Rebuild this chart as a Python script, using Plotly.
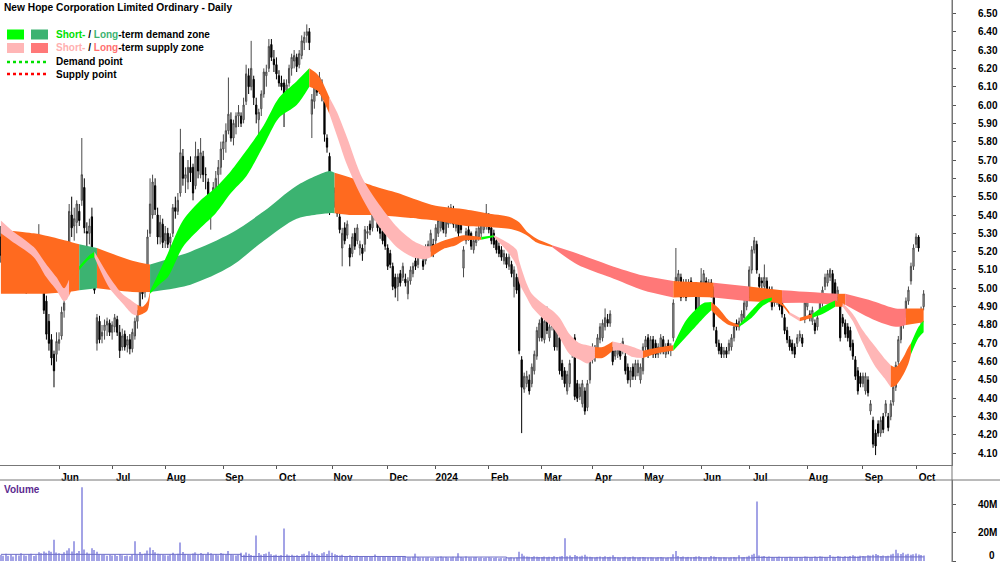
import pandas as pd
import plotly.graph_objects as go

# ---------------- data ----------------
first_day = "2023-05-01"
last_day = "2024-10-04"
asx_holidays = ["2023-06-12", "2023-12-25", "2023-12-26", "2024-01-01", "2024-01-26",
                "2024-03-29", "2024-04-01", "2024-04-25", "2024-06-10"]

open_px = [
    5.28, 5.15, 5.20, 5.12, 5.04, 5.13, 5.06, 5.16, 5.01, 5.11, 5.06, 5.01, 5.10, 5.21, 5.14, 5.20, 5.24, 4.99, 4.93, 4.82, 4.72, 4.64, 4.64,
    4.70, 4.74, 4.88, 4.96, 5.12, 5.40, 5.34, 5.36, 5.42, 5.48, 5.55, 5.31, 5.30, 5.39, 5.19, 4.70, 4.82, 4.74, 4.77, 4.80, 4.81,
    4.76, 4.79, 4.83, 4.76, 4.68, 4.75, 4.69, 4.72, 4.67, 4.74, 4.82, 4.90, 5.00, 4.98, 5.10, 5.30, 5.40, 5.56, 5.40, 5.28, 5.35,
    5.26, 5.30, 5.25, 5.30, 5.44, 5.42, 5.52, 5.72, 5.60, 5.58, 5.66, 5.66, 5.56, 5.72, 5.62, 5.72, 5.62, 5.58, 5.42, 5.46, 5.54, 5.62, 5.66,
    5.76, 5.80, 5.86, 5.92, 5.82, 5.88, 5.94, 5.94, 5.92, 6.02, 6.16, 6.10, 6.14, 6.00, 5.92, 5.98, 6.06, 6.16, 6.20, 6.33, 6.25,
    6.22, 6.16, 6.12, 6.12, 6.08, 6.12, 6.20, 6.24, 6.26, 6.22, 6.27, 6.34, 6.38, 6.40, 5.95, 6.02, 6.10, 6.08, 6.12, 6.02, 5.82, 5.72,
    5.55, 5.47, 5.48, 5.39, 5.22, 5.33, 5.29, 5.22, 5.19, 5.30, 5.26, 5.22, 5.22, 5.24, 5.30, 5.35, 5.33, 5.39, 5.41, 5.33, 5.31, 5.30,
    5.22, 5.19, 5.12, 5.06, 5.01, 5.08, 5.06, 5.05, 4.97, 5.04, 5.08, 5.15, 5.13, 5.21, 5.15, 5.15, 5.19, 5.22, 5.24,
    5.26, 5.30, 5.33, 5.39, 5.30, 5.35, 5.37, 5.43, 5.33, 5.39, 5.37, 5.11, 5.26, 5.32, 5.30, 5.21, 5.25, 5.28, 5.30, 5.32, 5.34,
    5.39, 5.33, 5.30, 5.26, 5.23, 5.21, 5.15, 5.17, 5.12, 5.13, 5.01, 5.06, 5.06, 4.61, 4.45, 4.48, 4.50, 4.48, 4.55, 4.63, 4.73,
    4.84, 4.72, 4.88, 4.73, 4.79, 4.81, 4.68, 4.73, 4.59, 4.55, 4.44, 4.48, 4.64, 4.73, 4.48, 4.41, 4.37, 4.44, 4.35, 4.50,
    4.61, 4.66, 4.66, 4.72, 4.73, 4.79, 4.83, 4.81, 4.66, 4.63, 4.64, 4.68, 4.66, 4.63, 4.57, 4.50, 4.57, 4.52, 4.54, 4.50,
    4.55, 4.68, 4.73, 4.66, 4.72, 4.70, 4.64, 4.66, 4.72, 4.64, 4.70, 4.66, 4.73, 4.98, 5.04, 5.06, 4.97, 5.03, 4.99, 5.04, 5.01, 4.99, 4.86,
    4.99, 5.02, 5.04, 4.99, 5.03, 4.99, 4.77, 4.70, 4.68, 4.64, 4.66, 4.66, 4.68, 4.73, 4.81, 4.79, 4.82, 4.84, 4.90,
    4.95, 5.10, 5.21, 5.24, 5.06, 5.04, 5.01, 5.04, 4.99, 4.99, 4.92, 4.93, 4.95, 4.93, 4.84, 4.77, 4.72, 4.70, 4.68, 4.70, 4.73, 4.73, 4.83,
    4.90, 4.86, 4.82, 4.81, 4.79, 4.88, 4.92, 5.01, 5.03, 5.06, 5.08, 5.03, 4.95, 4.93, 4.84, 4.81, 4.79, 4.77, 4.70, 4.61, 4.55, 4.52,
    4.48, 4.44, 4.50, 4.33, 4.28, 4.21, 4.26, 4.21, 4.30, 4.32, 4.30, 4.30, 4.38, 4.46, 4.60, 4.72, 4.80, 4.86, 4.93, 5.04, 5.12,
    5.24, 5.28, 4.82, 4.90,
]
high_px = [
    5.34, 5.27, 5.22, 5.15, 5.16, 5.16, 5.19, 5.18, 5.13, 5.14, 5.09, 5.16, 5.26, 5.24, 5.27, 5.35, 5.27, 5.02, 4.96, 4.86, 4.75, 4.66, 4.76,
    4.76, 4.90, 4.95, 5.14, 5.46, 5.50, 5.44, 5.48, 5.46, 5.82, 5.60, 5.36, 5.38, 5.44, 5.22, 4.86, 4.85, 4.80, 4.83, 4.84, 4.83,
    4.82, 4.86, 4.85, 4.80, 4.78, 4.77, 4.74, 4.75, 4.78, 4.84, 4.88, 5.02, 5.04, 5.08, 5.32, 5.60, 5.62, 5.60, 5.44, 5.40, 5.38,
    5.34, 5.33, 5.30, 5.46, 5.50, 5.52, 5.87, 5.76, 5.66, 5.70, 5.72, 5.68, 5.80, 5.76, 5.82, 5.75, 5.66, 5.60, 5.50, 5.58, 5.64, 5.70, 5.80,
    5.84, 5.90, 6.15, 5.96, 5.92, 5.96, 6.00, 5.96, 6.04, 6.22, 6.20, 6.35, 6.16, 6.04, 5.98, 6.08, 6.20, 6.22, 6.36, 6.36, 6.30,
    6.26, 6.19, 6.16, 6.14, 6.14, 6.22, 6.28, 6.30, 6.28, 6.30, 6.38, 6.40, 6.44, 6.42, 6.06, 6.12, 6.16, 6.18, 6.14, 6.04, 5.84, 5.74,
    5.58, 5.55, 5.50, 5.41, 5.33, 5.36, 5.37, 5.24, 5.30, 5.33, 5.35, 5.26, 5.24, 5.34, 5.34, 5.37, 5.43, 5.46, 5.43, 5.35, 5.33, 5.32,
    5.24, 5.21, 5.14, 5.08, 5.08, 5.10, 5.14, 5.08, 5.06, 5.12, 5.14, 5.17, 5.21, 5.23, 5.17, 5.24, 5.26, 5.32, 5.27,
    5.35, 5.39, 5.42, 5.41, 5.39, 5.45, 5.46, 5.45, 5.42, 5.41, 5.39, 5.23, 5.33, 5.34, 5.31, 5.28, 5.33, 5.35, 5.37, 5.41, 5.46,
    5.41, 5.35, 5.32, 5.28, 5.25, 5.23, 5.21, 5.19, 5.19, 5.15, 5.12, 5.08, 5.08, 4.63, 4.54, 4.55, 4.53, 4.59, 4.66, 4.79, 4.83,
    4.88, 4.84, 4.90, 4.81, 4.86, 4.83, 4.79, 4.75, 4.61, 4.57, 4.55, 4.61, 4.72, 4.75, 4.50, 4.48, 4.50, 4.46, 4.50, 4.68,
    4.70, 4.69, 4.75, 4.81, 4.83, 4.89, 4.86, 4.88, 4.68, 4.68, 4.70, 4.70, 4.73, 4.65, 4.59, 4.57, 4.59, 4.61, 4.61, 4.59,
    4.70, 4.74, 4.75, 4.74, 4.74, 4.72, 4.70, 4.75, 4.74, 4.70, 4.72, 4.70, 4.94, 5.22, 5.10, 5.08, 5.05, 5.05, 5.05, 5.06, 5.03, 5.01, 4.98,
    5.11, 5.10, 5.06, 5.05, 5.05, 5.01, 4.79, 4.72, 4.70, 4.68, 4.68, 4.72, 4.75, 4.81, 4.83, 4.84, 4.88, 4.94, 4.99,
    5.12, 5.23, 5.28, 5.26, 5.08, 5.06, 5.13, 5.06, 5.01, 5.01, 4.99, 4.99, 4.97, 4.95, 4.86, 4.79, 4.74, 4.72, 4.70, 4.75, 4.77, 4.75, 4.94,
    4.97, 4.88, 4.90, 4.83, 4.86, 4.95, 5.01, 5.08, 5.10, 5.11, 5.10, 5.05, 5.01, 4.95, 4.86, 4.83, 4.81, 4.79, 4.72, 4.63, 4.57, 4.54,
    4.54, 4.54, 4.52, 4.39, 4.30, 4.23, 4.28, 4.30, 4.32, 4.39, 4.32, 4.39, 4.48, 4.60, 4.74, 4.82, 4.88, 4.95, 5.01, 5.14, 5.24,
    5.30, 5.29, 4.90, 4.99,
]
low_px = [
    5.14, 5.12, 5.06, 5.00, 5.01, 5.05, 5.04, 5.00, 4.99, 5.02, 4.97, 4.99, 5.08, 5.12, 5.12, 5.18, 5.04, 4.86, 4.72, 4.66, 4.58, 4.46, 4.60,
    4.66, 4.72, 4.84, 4.94, 5.10, 5.28, 5.26, 5.30, 5.34, 5.45, 5.30, 5.22, 5.24, 5.16, 4.97, 4.66, 4.70, 4.70, 4.72, 4.74, 4.74,
    4.72, 4.76, 4.74, 4.62, 4.66, 4.66, 4.65, 4.64, 4.65, 4.72, 4.78, 4.88, 4.94, 4.95, 5.08, 5.28, 5.38, 5.40, 5.24, 5.24, 5.22,
    5.22, 5.22, 5.18, 5.28, 5.38, 5.40, 5.50, 5.56, 5.52, 5.54, 5.58, 5.48, 5.54, 5.60, 5.60, 5.58, 5.54, 5.38, 5.32, 5.42, 5.50, 5.56, 5.62,
    5.70, 5.74, 5.84, 5.80, 5.78, 5.84, 5.88, 5.88, 5.90, 6.00, 6.06, 6.08, 6.00, 5.90, 5.81, 5.94, 6.04, 6.10, 6.18, 6.24, 6.18,
    6.14, 6.10, 6.08, 5.88, 6.04, 6.10, 6.16, 6.20, 6.18, 6.20, 6.25, 6.30, 6.34, 6.30, 5.82, 5.98, 6.05, 6.06, 6.02, 5.80, 5.74, 5.40,
    5.44, 5.44, 5.39, 5.30, 5.12, 5.24, 5.27, 5.12, 5.17, 5.21, 5.24, 5.18, 5.15, 5.20, 5.27, 5.29, 5.31, 5.37, 5.31, 5.27, 5.24, 5.21,
    5.10, 5.11, 4.99, 4.95, 4.93, 5.01, 5.04, 5.01, 4.94, 5.02, 5.06, 5.10, 5.11, 5.17, 5.10, 5.13, 5.17, 5.20, 5.17,
    5.24, 5.28, 5.31, 5.30, 5.28, 5.33, 5.35, 5.33, 5.31, 5.28, 5.30, 5.06, 5.24, 5.26, 5.21, 5.19, 5.23, 5.26, 5.28, 5.30, 5.32,
    5.30, 5.24, 5.22, 5.19, 5.17, 5.15, 5.13, 5.11, 5.10, 5.06, 4.95, 4.97, 4.64, 4.21, 4.43, 4.46, 4.42, 4.46, 4.53, 4.61, 4.71,
    4.71, 4.70, 4.75, 4.71, 4.77, 4.66, 4.66, 4.53, 4.50, 4.46, 4.42, 4.46, 4.62, 4.39, 4.38, 4.39, 4.35, 4.31, 4.33, 4.48,
    4.59, 4.60, 4.64, 4.70, 4.71, 4.77, 4.79, 4.79, 4.58, 4.61, 4.62, 4.61, 4.64, 4.53, 4.48, 4.46, 4.50, 4.50, 4.52, 4.48,
    4.53, 4.66, 4.62, 4.64, 4.62, 4.62, 4.62, 4.64, 4.64, 4.62, 4.64, 4.63, 4.71, 4.96, 5.02, 4.93, 4.95, 4.93, 4.97, 4.99, 4.96, 4.84, 4.84,
    4.97, 5.00, 4.97, 4.97, 4.95, 4.77, 4.68, 4.64, 4.62, 4.62, 4.62, 4.64, 4.66, 4.71, 4.77, 4.77, 4.80, 4.82, 4.88,
    4.93, 5.08, 5.19, 5.08, 4.99, 5.00, 4.99, 4.95, 4.93, 4.88, 4.90, 4.91, 4.88, 4.84, 4.75, 4.70, 4.66, 4.64, 4.62, 4.68, 4.71, 4.68, 4.81,
    4.88, 4.82, 4.80, 4.75, 4.77, 4.86, 4.90, 4.99, 5.01, 5.04, 4.93, 4.93, 4.93, 4.71, 4.79, 4.73, 4.71, 4.66, 4.61, 4.50, 4.42, 4.46,
    4.46, 4.42, 4.41, 4.31, 4.13, 4.09, 4.19, 4.19, 4.21, 4.30, 4.22, 4.28, 4.36, 4.44, 4.58, 4.70, 4.78, 4.84, 4.91, 5.02, 5.10,
    5.22, 5.20, 4.80, 4.88,
]
close_px = [
    5.18, 5.22, 5.10, 5.05, 5.12, 5.08, 5.15, 5.02, 5.10, 5.05, 5.00, 5.12, 5.20, 5.15, 5.22, 5.26, 5.06, 4.88, 4.75, 4.70, 4.62, 4.55, 4.71,
    4.72, 4.87, 4.92, 5.12, 5.42, 5.33, 5.38, 5.46, 5.37, 5.62, 5.33, 5.30, 5.34, 5.19, 4.99, 4.84, 4.72, 4.76, 4.80, 4.82, 4.76,
    4.80, 4.84, 4.76, 4.66, 4.74, 4.68, 4.72, 4.67, 4.76, 4.82, 4.86, 5.00, 4.97, 5.06, 5.28, 5.46, 5.58, 5.43, 5.28, 5.36, 5.25,
    5.30, 5.24, 5.28, 5.44, 5.42, 5.48, 5.74, 5.60, 5.62, 5.66, 5.63, 5.52, 5.72, 5.64, 5.74, 5.62, 5.62, 5.45, 5.48, 5.55, 5.60, 5.66, 5.76,
    5.80, 5.86, 5.95, 5.82, 5.90, 5.94, 5.96, 5.90, 6.00, 6.17, 6.10, 6.20, 6.04, 5.95, 5.96, 6.06, 6.18, 6.18, 6.32, 6.26, 6.22,
    6.17, 6.12, 6.10, 6.06, 6.11, 6.20, 6.26, 6.27, 6.21, 6.28, 6.35, 6.37, 6.40, 6.34, 6.03, 6.10, 6.07, 6.15, 6.05, 5.84, 5.77, 5.50,
    5.46, 5.53, 5.41, 5.32, 5.30, 5.26, 5.35, 5.17, 5.28, 5.23, 5.33, 5.24, 5.19, 5.32, 5.31, 5.32, 5.40, 5.42, 5.33, 5.30, 5.26, 5.23,
    5.12, 5.13, 5.01, 5.00, 5.06, 5.03, 5.12, 5.03, 5.04, 5.10, 5.12, 5.12, 5.19, 5.19, 5.12, 5.22, 5.24, 5.30, 5.19,
    5.33, 5.37, 5.40, 5.32, 5.37, 5.41, 5.44, 5.35, 5.40, 5.30, 5.32, 5.21, 5.31, 5.28, 5.23, 5.26, 5.31, 5.33, 5.35, 5.39, 5.41,
    5.32, 5.26, 5.24, 5.21, 5.19, 5.17, 5.19, 5.13, 5.17, 5.08, 5.10, 4.99, 4.66, 4.46, 4.52, 4.52, 4.44, 4.57, 4.64, 4.77, 4.81,
    4.73, 4.82, 4.77, 4.79, 4.84, 4.68, 4.77, 4.55, 4.52, 4.48, 4.53, 4.59, 4.70, 4.41, 4.40, 4.46, 4.48, 4.33, 4.48, 4.66,
    4.68, 4.63, 4.73, 4.79, 4.81, 4.84, 4.81, 4.86, 4.60, 4.66, 4.68, 4.63, 4.71, 4.55, 4.50, 4.55, 4.52, 4.59, 4.59, 4.57,
    4.68, 4.72, 4.64, 4.72, 4.64, 4.64, 4.68, 4.73, 4.66, 4.68, 4.66, 4.68, 4.92, 5.06, 5.08, 4.95, 5.03, 4.95, 5.03, 5.01, 4.99, 4.86, 4.96,
    5.04, 5.08, 4.99, 5.03, 4.97, 4.79, 4.70, 4.66, 4.64, 4.66, 4.64, 4.70, 4.73, 4.79, 4.79, 4.82, 4.86, 4.92, 4.97,
    5.10, 5.21, 5.26, 5.10, 5.01, 5.03, 5.06, 4.97, 4.95, 4.90, 4.97, 4.97, 4.90, 4.86, 4.77, 4.72, 4.68, 4.66, 4.64, 4.73, 4.75, 4.70, 4.92,
    4.95, 4.84, 4.88, 4.77, 4.84, 4.93, 4.99, 5.06, 5.08, 5.10, 4.95, 4.95, 4.99, 4.73, 4.81, 4.75, 4.73, 4.68, 4.63, 4.52, 4.44, 4.48,
    4.52, 4.52, 4.43, 4.37, 4.15, 4.14, 4.21, 4.28, 4.23, 4.37, 4.24, 4.37, 4.46, 4.58, 4.72, 4.80, 4.86, 4.93, 4.99, 5.12, 5.22,
    5.28, 5.22, 4.87, 4.97,
]
volume_m = [
    4.2, 3.8, 5.1, 3.6, 4.4, 3.2, 4.8, 3.9, 5.5, 4.1, 3.7, 4.6, 5.2, 3.5, 4.0, 6.1, 5.4, 6.8, 5.9, 7.2, 6.5, 15.0, 6.0,
    5.5, 4.8, 6.2, 7.5, 9.0, 6.8, 14.0, 5.6, 7.1, 52.0, 8.2, 6.0, 5.1, 9.0, 7.8, 6.5, 4.9, 4.2, 4.5, 3.8, 4.3,
    3.9, 4.4, 3.6, 4.8, 4.1, 3.5, 3.9, 3.3, 4.6, 14.0, 4.2, 6.3, 4.7, 5.3, 7.4, 9.5, 7.8, 6.1, 5.2, 4.8, 4.4,
    4.1, 3.9, 4.6, 5.8, 4.3, 5.1, 13.0, 6.4, 5.0, 4.6, 4.2, 5.3, 6.1, 4.4, 5.7, 4.9, 4.5, 6.2, 5.5, 4.3, 4.8, 4.1, 5.6,
    5.2, 4.6, 7.1, 4.8, 4.2, 3.9, 4.5, 5.8, 4.4, 6.0, 5.1, 4.3, 3.8, 18.0, 5.6, 4.4, 4.9, 5.3, 6.6, 4.7, 4.1,
    4.5, 3.8, 4.2, 23.0, 4.6, 3.9, 4.4, 3.7, 4.1, 3.5, 4.8, 5.2, 4.3, 6.9, 5.8, 4.6, 4.9, 4.1, 5.5, 6.2, 5.0, 7.3,
    5.8, 4.7, 4.3, 3.9, 4.4, 3.6, 3.2, 4.1, 3.5, 3.3, 3.8, 3.1, 2.9, 3.4, 3.0, 2.8, 3.3, 4.6, 3.2, 2.9, 3.5, 3.1,
    3.4, 3.0, 3.6, 3.2, 2.8, 3.1, 2.9, 3.3, 2.7, 2.6, 3.0, 5.2, 2.8, 2.5, 2.7, 2.4, 2.6, 2.2, 2.3,
    2.5, 2.8, 3.2, 2.6, 2.9, 2.4, 2.7, 3.0, 2.6, 5.5, 2.8, 2.5, 3.1, 2.7, 2.4, 2.6, 2.9, 2.3, 2.5, 2.2, 2.4,
    2.6, 2.3, 2.1, 2.4, 2.0, 2.2, 1.9, 2.3, 2.1, 2.5, 2.2, 2.4, 6.5, 5.2, 3.8, 3.1, 3.0, 2.9, 3.3, 3.0, 2.8,
    2.8, 3.2, 2.7, 3.0, 2.6, 3.4, 2.9, 3.1, 3.6, 16.0, 3.3, 3.9, 2.8, 4.2, 3.5, 3.1, 3.8, 4.5, 3.2, 3.0,
    2.7, 2.5, 2.9, 3.1, 2.6, 3.3, 2.8, 3.0, 4.1, 2.9, 2.6, 2.4, 2.7, 3.0, 2.5, 2.8, 3.2, 2.6, 2.4, 2.7,
    2.9, 2.6, 2.4, 2.7, 2.5, 2.3, 2.6, 2.8, 2.4, 2.2, 2.5, 2.7, 4.8, 7.0, 3.5, 2.9, 3.2, 2.7, 2.9, 2.6, 2.8, 3.1, 3.4,
    2.8, 2.5, 2.7, 2.4, 3.6, 3.2, 2.9, 2.6, 2.4, 2.7, 2.5, 2.3, 2.6, 2.8, 2.5, 4.0, 2.7, 2.9, 3.0,
    3.8, 4.4, 5.1, 42.0, 3.9, 3.2, 3.5, 2.9, 3.1, 2.8, 2.6, 2.9, 3.1, 2.7, 2.5, 2.8, 3.0, 2.6, 2.4, 2.7, 2.9, 2.5, 3.2,
    3.0, 2.7, 2.9, 3.2, 2.8, 3.4, 3.1, 2.9, 2.6, 4.2, 3.0, 2.8, 3.5, 3.1, 2.9, 3.3, 3.0, 3.6, 4.0, 3.4, 3.2, 3.7,
    3.5, 3.2, 4.1, 3.8, 4.4, 5.0, 4.2, 3.6, 3.9, 3.4, 3.7, 4.6, 5.2, 8.0, 5.5, 4.9, 5.8, 4.6, 5.1, 4.4, 4.8,
    5.3, 4.6, 4.2, 3.9,
]
vol_avg_idx = [0, 95, 160, 200, 298, 340, 365]
vol_avg_m = [4.7, 3.2, 2.8, 2.2, 2.6, 2.9, 2.9]

# Long-term zone: trading-day index, upper and lower edge, and zone type from a start index
lt_idx = [0, 13, 17, 26, 31, 38, 52, 59, 75, 91, 104, 117, 130, 132, 139, 147, 157, 165, 172, 184,
          192, 201, 205, 208, 212, 218, 228, 241, 254, 266, 275, 282, 296, 309, 320, 331, 334, 345, 354, 358, 365]
lt_top = [5.32, 5.30, 5.29, 5.26, 5.24, 5.22, 5.15, 5.13, 5.20, 5.30, 5.42, 5.56, 5.64, 5.63, 5.60, 5.56, 5.52, 5.48, 5.45, 5.43,
          5.41, 5.39, 5.36, 5.31, 5.27, 5.235, 5.19, 5.125, 5.07, 5.04, 5.034, 5.03, 5.01, 4.99, 4.98, 4.97, 4.97, 4.93, 4.89, 4.89, 4.89]
lt_bot = [4.97, 4.97, 4.97, 4.98, 4.99, 5.00, 4.98, 4.98, 5.02, 5.12, 5.26, 5.38, 5.41, 5.41, 5.40, 5.40, 5.39, 5.38, 5.37, 5.34,
          5.335, 5.325, 5.31, 5.29, 5.25, 5.225, 5.13, 5.06, 4.99, 4.95, 4.952, 4.95, 4.93, 4.92, 4.92, 4.91, 4.91, 4.83, 4.79, 4.80, 4.815]
lt_zones = [(0, "c"), (31, "ld"), (38, "c"), (59, "ld"), (132, "c"), (218, "ls"), (266, "c"), (282, "ls"),
            (296, "c"), (309, "ls"), (331, "c"), (334, "ls"), (358, "c")]

# Short-term zone
st_idx = [0, 4, 13, 18, 22, 25, 27, 31, 35, 37, 43, 48, 52, 54, 56, 58, 59, 63, 66, 72, 79, 85, 91, 97, 104, 110, 117,
          122, 125, 127, 130, 133, 137, 143, 150, 157, 163, 168, 170, 175, 180, 183, 190, 195, 201, 204, 205, 208, 210,
          214, 218, 221, 225, 229, 232, 235, 238, 242, 245, 250, 254, 261, 266, 271, 276, 278, 281, 284, 288, 292, 297,
          301, 305, 309, 312, 316, 321, 325, 330, 333, 337, 341, 346, 350, 352, 354, 357, 359, 360, 363, 365]
st_top = [5.37, 5.32, 5.225, 5.13, 5.06, 5.00, 5.05, 5.12, 5.18, 5.20, 5.06, 4.97, 4.93, 4.91, 4.90, 4.93, 4.985, 5.10, 5.19,
          5.37, 5.48, 5.55, 5.64, 5.75, 5.89, 6.04, 6.13, 6.20, 6.17, 6.13, 6.04, 5.96, 5.82, 5.60, 5.45, 5.33, 5.26, 5.23,
          5.23, 5.26, 5.28, 5.29, 5.28, 5.29, 5.245, 5.21, 5.15, 5.025, 4.97, 4.92, 4.88, 4.84, 4.75, 4.70, 4.69, 4.68, 4.68,
          4.71, 4.70, 4.68, 4.66, 4.68, 4.69, 4.825, 4.90, 4.92, 4.925, 4.89, 4.825, 4.80, 4.88, 4.934, 4.95, 4.92, 4.87,
          4.84, 4.86, 4.90, 4.934, 4.92, 4.86, 4.77, 4.68, 4.61, 4.58, 4.57, 4.625, 4.68, 4.70, 4.79, 4.825]
st_bot = [5.30, 5.26, 5.17, 5.06, 4.99, 4.93, 4.96, 5.10, 5.16, 5.17, 5.00, 4.92, 4.86, 4.85, 4.86, 4.88, 4.97, 5.025, 5.06,
          5.225, 5.33, 5.41, 5.52, 5.61, 5.78, 5.93, 6.00, 6.10, 6.08, 6.04, 5.95, 5.83, 5.67, 5.49, 5.33, 5.22, 5.17, 5.16,
          5.17, 5.215, 5.235, 5.26, 5.265, 5.28, 5.19, 5.12, 5.03, 4.95, 4.90, 4.84, 4.79, 4.73, 4.64, 4.61, 4.59, 4.62, 4.62,
          4.66, 4.66, 4.625, 4.62, 4.65, 4.66, 4.735, 4.81, 4.84, 4.88, 4.84, 4.80, 4.79, 4.84, 4.90, 4.935, 4.905, 4.855,
          4.82, 4.84, 4.86, 4.90, 4.90, 4.82, 4.70, 4.57, 4.50, 4.46, 4.47, 4.53, 4.59, 4.64, 4.73, 4.76]
st_zones = [(0, "ss"), (27, "c"), (31, "sd"), (37, "ss"), (54, "c"), (59, "sd"), (122, "c"), (130, "ss"), (170, "c"),
            (190, "sd"), (195, "ss"), (235, "c"), (242, "ss"), (254, "c"), (266, "sd"), (281, "c"), (292, "sd"),
            (305, "c"), (312, "ss"), (316, "c"), (321, "sd"), (330, "c"), (333, "ss"), (352, "c"), (360, "sd")]

price_ticks = [round(4.1 + 0.1 * k, 2) for k in range(25)]

# ---------------- figure ----------------
W, H = 1000, 562
PLOT_R = 952
zone_colors = {"sd": "#00FF00", "ld": "#3CB371", "ss": "#FFB6B6", "ls": "#FF7878", "c": "#FF6A1F"}

dates = [d for d in pd.bdate_range(first_day, last_day) if d.strftime("%Y-%m-%d") not in asx_holidays]
n = min(len(dates), len(open_px), len(high_px), len(low_px), len(close_px), len(volume_m))
xs = list(range(n))

tick_idx, tick_txt = [], []
for i in range(1, len(dates)):
    if dates[i].month != dates[i - 1].month:
        tick_idx.append(i)
        tick_txt.append(str(dates[i].year) if dates[i].month == 1 else dates[i].strftime("%b"))

fig = go.Figure()


def add_band(idx, top, bot, zones):
    bounds = [z[0] for z in zones] + [idx[-1]]
    for k, (s, kind) in enumerate(zones):
        e = bounds[k + 1]
        sel = [j for j, v in enumerate(idx) if s <= v <= e]
        bx = [idx[j] for j in sel]
        fig.add_trace(go.Scatter(x=bx, y=[bot[j] for j in sel], mode="lines",
                                 line=dict(width=0, shape="spline", smoothing=0.8, color=zone_colors[kind]),
                                 hoverinfo="skip", showlegend=False))
        fig.add_trace(go.Scatter(x=bx, y=[top[j] for j in sel], mode="lines",
                                 line=dict(width=0, shape="spline", smoothing=0.8, color=zone_colors[kind]),
                                 fill="tonexty", fillcolor=zone_colors[kind], hoverinfo="skip", showlegend=False))


add_band(lt_idx, lt_top, lt_bot, lt_zones)
add_band(st_idx, st_top, st_bot, st_zones)

fig.add_trace(go.Candlestick(
    x=xs, open=open_px[:n], high=high_px[:n], low=low_px[:n], close=close_px[:n],
    increasing=dict(line=dict(color="#4A4A4A", width=1), fillcolor="#BDBDBD"),
    decreasing=dict(line=dict(color="#000000", width=1), fillcolor="#000000"),
    whiskerwidth=0, showlegend=False, hoverinfo="skip"))

fig.add_trace(go.Bar(x=xs, y=volume_m[:n], xaxis="x2", yaxis="y2", width=0.45,
                     marker=dict(color="#A3A3E6", line=dict(width=0)), showlegend=False, hoverinfo="skip"))
fig.add_trace(go.Scatter(x=vol_avg_idx, y=vol_avg_m, xaxis="x2", yaxis="y2", mode="lines",
                         line=dict(color="#6E6EC8", width=1, shape="hv"), showlegend=False, hoverinfo="skip"))

x_range = [-0.356, (PLOT_R - 0.9) / 2.528]
price_bottom = 1 - 465 / H
vol_top = 1 - 480 / H
bold = dict(family="Arial, Liberation Sans, sans-serif", size=10, color="#000000", weight="bold")

fig.update_layout(
    width=W, height=H, margin=dict(l=0, r=W - PLOT_R, t=0, b=0),
    paper_bgcolor="white", plot_bgcolor="white", showlegend=False,
    font=dict(family="Arial, Liberation Sans, sans-serif", size=10, color="#000000"),
    xaxis=dict(domain=[0, 1], range=x_range, anchor="y", tickvals=tick_idx, ticktext=tick_txt,
               ticks="outside", ticklen=3, tickcolor="#555555", showline=True, linecolor="#777777",
               showgrid=False, zeroline=False, tickfont=bold, ticklabelshift=11,
               rangeslider=dict(visible=False), fixedrange=True),
    xaxis2=dict(domain=[0, 1], range=x_range, anchor="y2", matches="x", showticklabels=False,
                showgrid=False, zeroline=False, showline=False, ticks=""),
    yaxis=dict(domain=[price_bottom, 1], range=[4.036, 6.573], side="right", anchor="x",
               tickvals=price_ticks, ticktext=["%.2f" % v for v in price_ticks],
               ticks="outside", ticklen=3, tickcolor="#555555", showline=True, linecolor="#777777",
               showgrid=False, zeroline=False, tickfont=bold, ticklabelstandoff=20, fixedrange=True),
    yaxis2=dict(domain=[0, vol_top], range=[-0.7, 57.2], side="right", anchor="x2",
                tickvals=[0, 20, 40], ticktext=["", "20M", "40M"],
                ticks="outside", ticklen=3, tickcolor="#555555", showline=True, linecolor="#777777",
                showgrid=False, zeroline=False, tickfont=bold, ticklabelstandoff=20, fixedrange=True),
)


def px_x(v):
    return v / PLOT_R


def px_y(v):
    return 1 - v / H


shapes = [
    dict(type="line", xref="paper", yref="paper", x0=0, x1=px_x(W), y0=px_y(480), y1=px_y(480),
         line=dict(color="#777777", width=1)),
    dict(type="line", xref="paper", yref="paper", x0=1, x1=1, y0=0, y1=1, line=dict(color="#777777", width=1)),
    # legend swatches
    dict(type="rect", xref="paper", yref="paper", x0=px_x(7), x1=px_x(24), y0=px_y(39.5), y1=px_y(29.5),
         fillcolor=zone_colors["sd"], line=dict(width=0)),
    dict(type="rect", xref="paper", yref="paper", x0=px_x(31), x1=px_x(48), y0=px_y(39.5), y1=px_y(29.5),
         fillcolor=zone_colors["ld"], line=dict(width=0)),
    dict(type="rect", xref="paper", yref="paper", x0=px_x(7), x1=px_x(24), y0=px_y(53), y1=px_y(43),
         fillcolor=zone_colors["ss"], line=dict(width=0)),
    dict(type="rect", xref="paper", yref="paper", x0=px_x(31), x1=px_x(48), y0=px_y(53), y1=px_y(43),
         fillcolor=zone_colors["ls"], line=dict(width=0)),
    dict(type="line", xref="paper", yref="paper", x0=px_x(7), x1=px_x(47), y0=px_y(62), y1=px_y(62),
         line=dict(color="#00E000", width=2.5, dash="dot")),
    dict(type="line", xref="paper", yref="paper", x0=px_x(7), x1=px_x(47), y0=px_y(74), y1=px_y(74),
         line=dict(color="#FF0000", width=2.5, dash="dot")),
]
fig.update_layout(shapes=shapes)

ann_font = dict(family="Arial, Liberation Sans, sans-serif", size=10, color="#000000")
annotations = [
    dict(text="<b>New Hope Corporation Limited Ordinary - Daily</b>", x=px_x(2), y=px_y(7),
         font=dict(family="Arial, Liberation Sans, sans-serif", size=10.2, color="#000000")),
    dict(text='<b><span style="color:#00E000">Short-</span> / <span style="color:#3CB371">Long</span>-term demand zone</b>',
         x=px_x(54), y=px_y(34.5), font=ann_font),
    dict(text='<b><span style="color:#FFB0B0">Short-</span> / <span style="color:#FF7070">Long</span>-term supply zone</b>',
         x=px_x(54), y=px_y(48), font=ann_font),
    dict(text="<b>Demand point</b>", x=px_x(54), y=px_y(62), font=ann_font),
    dict(text="<b>Supply point</b>", x=px_x(54), y=px_y(74.5), font=ann_font),
    dict(text="<b>Volume</b>", x=px_x(2), y=px_y(489),
         font=dict(family="Arial, Liberation Sans, sans-serif", size=10, color="#5B2A8F")),
    dict(text="<b>0</b>", x=px_x(997), y=px_y(555), xanchor="right", font=ann_font),
]
for a in annotations:
    a.setdefault("xanchor", "left")
    a.update(xref="paper", yref="paper", yanchor="middle", showarrow=False)
fig.update_layout(annotations=annotations)

fig.write_html("out.html", config={"displayModeBar": False})
